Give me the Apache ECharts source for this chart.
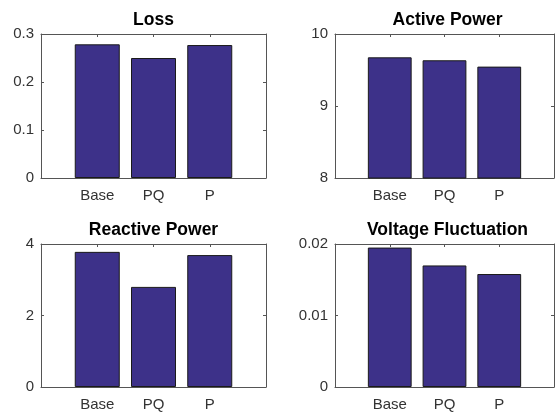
<!DOCTYPE html>
<html>
<head>
<meta charset="utf-8">
<script src="https://cdn.jsdelivr.net/npm/echarts@6/dist/echarts.min.js"></script>
<style>
html,body{margin:0;padding:0;background:#fff;}
#chart{width:557px;height:412px;}
</style>
</head>
<body>
<div id="chart"></div>
<script>
// ---- data ----
const categories = ['Base', 'PQ', 'P'];
const titles = ['Loss', 'Active Power', 'Reactive Power', 'Voltage Fluctuation'];
const lossValues = [0.2785, 0.250, 0.277];
const activePowerValues = [9.676, 9.635, 9.547];
const reactivePowerValues = [3.78, 2.80, 3.69];
const voltageFluctuationValues = [0.0195, 0.0170, 0.0158];
const yMins = [0, 8, 0, 0];
const yMaxs = [0.3, 10, 4, 0.02];
const yIntervals = [0.1, 1, 2, 0.01];

const seriesValues = [lossValues, activePowerValues, reactivePowerValues, voltageFluctuationValues];

// ---- layout / style ----
const FONT = 'Liberation Sans, Arial, Helvetica, sans-serif';
const TEXT = '#333333';
const LINE = '#555555';
const BAR = '#3d3189';
const gridBoxes = [
  {left: 41, top: 34, width: 225, height: 144},
  {left: 335, top: 34, width: 225, height: 144},
  {left: 41, top: 244, width: 225, height: 144},
  {left: 335, top: 244, width: 225, height: 144}
];

const grid = [], xAxis = [], yAxis = [], series = [], title = [];
gridBoxes.forEach((g, i) => {
  grid.push(Object.assign({containLabel: false}, g));
  const lineStyle = {color: LINE, width: 1};
  const commonX = {
    type: 'value', gridIndex: i, min: 0, max: categories.length + 1, interval: 1,
    axisLine: {show: true, onZero: false, lineStyle},
    axisTick: {show: true, inside: true, length: 3, lineStyle},
    splitLine: {show: false}
  };
  xAxis.push(Object.assign({}, commonX, {
    position: 'bottom',
    axisLabel: {
      show: true, margin: 10, color: TEXT, fontFamily: FONT, fontSize: 15,
      formatter: v => (v >= 1 && v <= categories.length && Number.isInteger(v)) ? categories[v - 1] : ''
    }
  }));
  xAxis.push(Object.assign({}, commonX, {position: 'top', axisLabel: {show: false}}));
  const commonY = {
    type: 'value', gridIndex: i, min: yMins[i], max: yMaxs[i], interval: yIntervals[i],
    axisLine: {show: true, onZero: false, lineStyle},
    axisTick: {show: true, inside: true, length: 3, lineStyle},
    splitLine: {show: false}
  };
  yAxis.push(Object.assign({}, commonY, {
    position: 'left',
    axisLabel: {show: true, margin: 7, color: TEXT, fontFamily: FONT, fontSize: 15}
  }));
  yAxis.push(Object.assign({}, commonY, {position: 'right', axisLabel: {show: false}}));
  series.push({
    type: 'bar', xAxisIndex: 2 * i, yAxisIndex: 2 * i,
    data: categories.map((c, k) => [k + 1, seriesValues[i][k]]),
    barWidth: '80%',
    clip: true,
    itemStyle: {color: BAR, borderColor: '#1a1a1a', borderWidth: 1},
    emphasis: {disabled: true},
    animation: false
  });
  title.push({
    text: titles[i],
    left: g.left + g.width / 2,
    top: g.top - 23,
    textAlign: 'center',
    padding: 0,
    textStyle: {fontFamily: FONT, fontSize: 17.5, fontWeight: 'bold', color: '#000'}
  });
});

const chart = echarts.init(document.getElementById('chart'), null, {renderer: 'canvas'});
chart.setOption({
  backgroundColor: '#fff',
  animation: false,
  title, grid, xAxis, yAxis, series
});
</script>
</body>
</html>
